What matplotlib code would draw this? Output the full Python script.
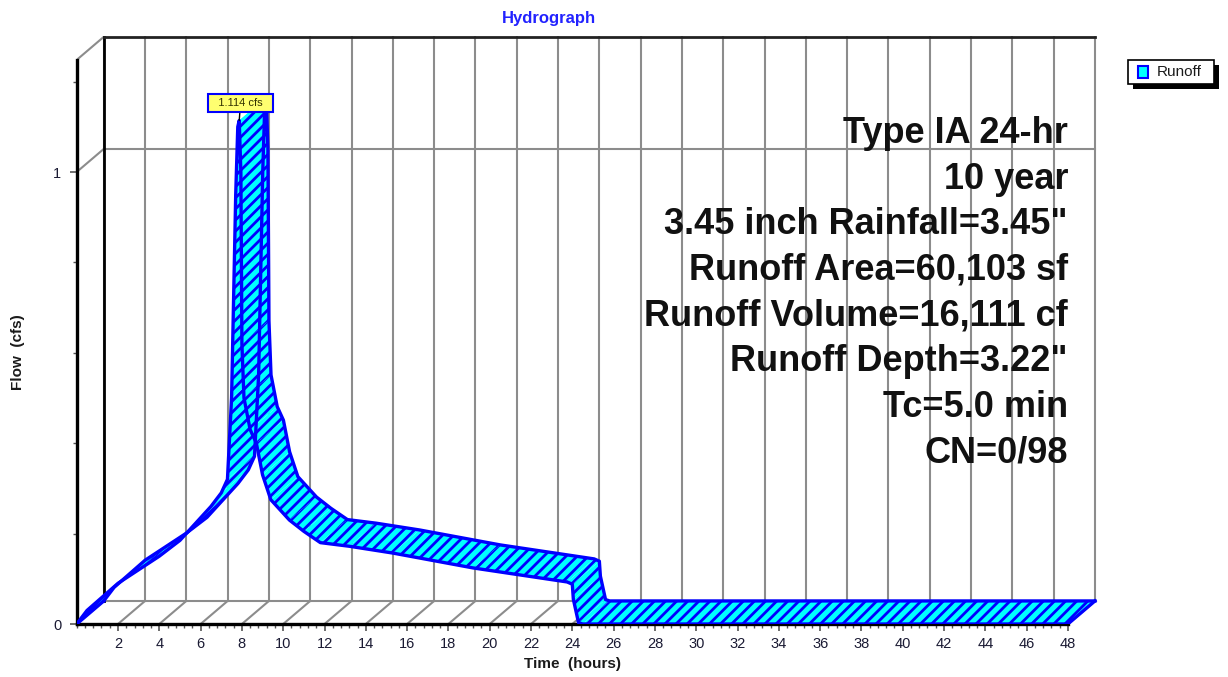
import numpy as np
import matplotlib.pyplot as plt
from matplotlib.collections import PolyCollection
from matplotlib.patches import Rectangle
from matplotlib.ticker import FixedLocator

plt.rcParams['font.family'] = ['Liberation Sans', 'DejaVu Sans']
plt.rcParams['hatch.linewidth'] = 2.0

# Runoff hydrograph ordinates (hours, cfs)
time_hr = [0.0, 0.5, 1.0, 1.5, 2.0, 3.0, 4.0, 5.0, 6.0, 6.5, 7.0, 7.3, 7.5,
           7.7, 7.8, 7.87, 7.95, 8.0, 8.1, 8.4, 8.7, 9.0, 9.4, 10.3, 11.0,
           11.8, 13.2, 15.3, 19.2, 23.75, 24.0, 24.05, 24.3, 24.5, 48.0]
flow_cfs = [0.0, 0.03, 0.05, 0.07, 0.09, 0.12, 0.15, 0.185, 0.235, 0.26,
            0.29, 0.32, 0.5, 0.95, 1.1, 1.114, 1.0, 0.62, 0.50, 0.43, 0.40,
            0.33, 0.275, 0.23, 0.205, 0.18, 0.172, 0.157, 0.124, 0.093,
            0.088, 0.055, 0.003, 0.0, 0.0]

peak_time = 7.87
peak_flow = 1.114

x_ticks = list(range(2, 50, 2))
y_ticks = [0, 1]

info_lines = ["Type IA 24-hr", "10 year", '3.45 inch Rainfall=3.45"',
              "Runoff Area=60,103 sf", "Runoff Volume=16,111 cf",
              'Runoff Depth=3.22"', "Tc=5.0 min", "CN=0/98"]

# pseudo-3D depth offset of the back plane, in data units
DX = 1.31
DY = 0.051
T_END = 48
Q_TOP = 1.248

W, H = 1228, 677
fig = plt.figure(figsize=(W / 100, H / 100), dpi=100)
ax = fig.add_axes([76.7 / W, 53 / H, 50 * 20.65 / W, 1.3 * 452 / H])
ax.set_xlim(0, 50)
ax.set_ylim(0, 1.3)

grid = dict(color='#8c8c8c', lw=1.5, zorder=1)

# back wall: vertical grid every 2 hours, flow=1 line, top edge
for h in range(0, T_END + 1, 2):
    ax.plot([h + DX, h + DX], [DY, Q_TOP + DY], **grid)
ax.plot([DX, DX], [DY, Q_TOP + DY], color='black', lw=2, zorder=1.2)
ax.plot([DX, T_END + DX], [1 + DY, 1 + DY], **grid)
ax.plot([DX, T_END + DX], [Q_TOP + DY, Q_TOP + DY], color='#222222', lw=2, zorder=1.2)

# floor: back edge and depth lines at the major ticks
ax.plot([DX, T_END + DX], [DY, DY], **grid)
for h in range(0, T_END + 1, 2):
    ax.plot([h, h + DX], [0, DY], **grid)

# left wall depth lines
for q in [1, Q_TOP]:
    ax.plot([0, DX], [q, q + DY], **grid)

# runoff ribbon: one quad per step between front and back edges
t = np.array(time_hr)
q = np.array(flow_cfs)
quads = [[(t[i], q[i]), (t[i + 1], q[i + 1]),
          (t[i + 1] + DX, q[i + 1] + DY), (t[i] + DX, q[i] + DY)]
         for i in range(len(t) - 1)]
ribbon = PolyCollection(quads, facecolors='#00ffff', edgecolors='#0000ff',
                        linewidths=0, hatch='///', zorder=3)
ax.add_collection(ribbon)

edge = dict(color='#0000ff', lw=2.4, zorder=4, solid_joinstyle='round')
ax.plot(t, q, **edge)
ax.plot(t + DX, q + DY, **edge)
ax.plot([t[0], t[0] + DX], [q[0], q[0] + DY], **edge)
ax.plot([t[-1], t[-1] + DX], [q[-1], q[-1] + DY], **edge)

# peak flow callout
ax.annotate(f'  {peak_flow:.3f} cfs  ', xy=(peak_time, peak_flow),
            xytext=(1, 9), textcoords='offset points', ha='center', va='bottom',
            fontsize=8, color='#333300',
            bbox=dict(boxstyle='square,pad=0.35', fc='#ffff70', ec='#0000ff', lw=1.5),
            arrowprops=dict(arrowstyle='-', color='black', lw=1, shrinkA=0, shrinkB=0),
            zorder=6)

# front axes
for side in ['top', 'right']:
    ax.spines[side].set_visible(False)
ax.spines['left'].set_bounds(0, Q_TOP)
ax.spines['bottom'].set_bounds(0, T_END)
for side in ['left', 'bottom']:
    ax.spines[side].set_linewidth(2.4)
    ax.spines[side].set_color('black')
    ax.spines[side].set_zorder(2.5)

ax.set_xticks(x_ticks)
ax.xaxis.set_minor_locator(FixedLocator(np.arange(0, T_END + 0.01, 0.4)))
ax.set_yticks(y_ticks)
ax.yaxis.set_minor_locator(FixedLocator([0.2, 0.4, 0.6, 0.8, 1.2]))
ax.tick_params(which='major', direction='out', length=5, width=1.2,
               color='#555555', labelsize=10.5, labelcolor='#1a1a33', pad=4)
ax.tick_params(which='minor', direction='out', length=3, width=1,
               color='#555555')
ax.tick_params(axis='y', which='both', pad=6)
ax.patch.set_visible(False)

fig.text(549 / W, 1 - 18 / H, 'Hydrograph', color='#2222ff', fontsize=12,
         fontweight='bold', ha='center', va='center')
fig.text(572 / W, 1 - 664 / H, 'Time  (hours)', fontsize=11, fontweight='bold',
         ha='center', va='center', color='#1a1a1a')
fig.text(18 / W, 1 - 352 / H, 'Flow  (cfs)', fontsize=11, fontweight='bold',
         rotation=90, ha='center', va='center', color='#1a1a1a')

for i, line in enumerate(info_lines):
    fig.text(1068 / W, 1 - (143 + 45.6 * i) / H, line, fontsize=26,
             fontweight='bold', ha='right', va='baseline', color='#111111')


# legend box with a hard drop shadow, placed in figure pixels
def px_rect(x0, y0, x1, y1, **kw):
    return Rectangle((x0 / W, 1 - y1 / H), (x1 - x0) / W, (y1 - y0) / H,
                     transform=fig.transFigure, **kw)


fig.add_artist(px_rect(1133, 65, 1219, 89, facecolor='black', edgecolor='none'))
fig.add_artist(px_rect(1128, 60, 1214, 84, facecolor='white', edgecolor='black', lw=1.2))
fig.add_artist(px_rect(1138, 66, 1148, 78, facecolor='#00ffff', edgecolor='#0000ff', lw=1.5))
fig.text(1157 / W, 1 - 72 / H, 'Runoff', fontsize=11, ha='left', va='center',
         color='#1a1a1a')

fig.savefig('out.png', dpi=100)
